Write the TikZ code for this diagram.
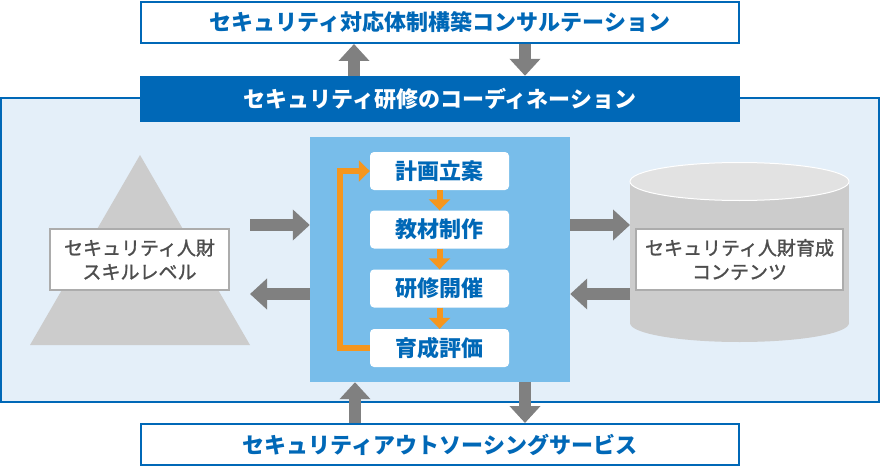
\documentclass[tikz,border=0pt]{standalone}
\usepackage{fontspec}
\setmainfont{Noto Sans CJK JP}
\newfontfamily\jpmedium{Noto Sans CJK JP}[FakeBold=1.4]
\usepackage{xcolor}
\definecolor{corpblue}{HTML}{0068B7}
\definecolor{paleblue}{HTML}{E4EFF9}
\definecolor{skyblue}{HTML}{78BDEA}
\definecolor{floworange}{HTML}{F5961E}
\definecolor{arrgray}{HTML}{808080}
\definecolor{shapegray}{HTML}{CCCCCC}
\definecolor{topgray}{HTML}{E2E2E2}
\definecolor{textgray}{HTML}{4D4D4D}
\usepackage{tikz}
\usetikzlibrary{
  arrows.meta,
  positioning
}

\begin{document}
\begin{tikzpicture}[x=1pt, y=-1pt,
  outer/.style={rectangle, draw=corpblue, line width=2pt, fill=white, minimum width=598pt, minimum height=41pt, font=\fontsize{22}{25}\selectfont\bfseries, text=corpblue},
  bar/.style={rectangle, fill=corpblue, minimum width=600pt, minimum height=46pt, font=\fontsize{22}{25}\selectfont\bfseries, text=white},
  panel/.style={rectangle, draw=corpblue, line width=1.5pt, fill=paleblue, minimum width=878pt, minimum height=304pt},
  proc/.style={rectangle, fill=skyblue, minimum width=260pt, minimum height=245pt},
  stepbox/.style={rectangle, fill=white, rounded corners=4pt, minimum width=139pt, minimum height=38pt, font=\fontsize{22}{25}\selectfont\bfseries, text=corpblue},
  infobox/.style={rectangle, draw=gray!65, line width=1.5pt, fill=white, minimum height=61pt, align=center, font=\fontsize{19}{24}\selectfont\jpmedium, text=textgray},
  garr/.style={-{Triangle[length=17pt, width=30pt]}, line width=12pt, arrgray},
  oarr/.style={-{Triangle[length=11pt, width=21pt]}, line width=6pt, floworange}
]
  \useasboundingbox (0,0) rectangle (880,468);

  \node[panel] (panel) at (440,250) {};

  \node[outer] (consult) at (440,22.5) {セキュリティ対応体制構築コンサルテーション};
  \node[bar] (coord) at (440,99) {セキュリティ研修のコーディネーション};
  \node[outer] (outsource) at (440,444.5) {セキュリティアウトソーシングサービス};

  % pyramid
  \fill[shapegray] (140,155) -- (250,345) -- (30,345) -- cycle;
  \node[infobox, minimum width=179pt] (skill) at (139.5,259.5) {セキュリティ人財\\スキルレベル};

  % cylinder
  \fill[shapegray] (630,181.5) rectangle (849,323);
  \fill[shapegray] (739.5,323) ellipse [x radius=109.5, y radius=19];
  \filldraw[fill=topgray, draw=white, line width=1pt] (739.5,181.5) ellipse [x radius=109.5, y radius=19];
  \node[infobox, minimum width=207pt] (contents) at (739.5,259.5) {セキュリティ人財育成\\コンテンツ};

  \node[proc] (process) at (440,259.5) {};
  \node[stepbox] (plan) at (439.5,171) {計画立案};
  \node[stepbox] (material) at (439.5,229.5) {教材制作};
  \node[stepbox] (training) at (439.5,288.5) {研修開催};
  \node[stepbox] (evaluate) at (439.5,348) {育成評価};

  \draw[oarr] (plan) -- (material);
  \draw[oarr] (material) -- (training);
  \draw[oarr] (training) -- (evaluate);
  \draw[oarr] (evaluate.west) -- ++(-30,0) |- (plan.west);

  \coordinate (lvlin) at (250,225);
  \coordinate (lvlout) at (250,294);
  \coordinate (cntin) at (630,225);
  \coordinate (cntout) at (630,294);

  \draw[garr] (lvlin) -- (lvlin -| process.west);
  \draw[garr] (lvlout -| process.west) -- (lvlout);
  \draw[garr] (cntin -| process.east) -- (cntin);
  \draw[garr] (cntout) -- (cntout -| process.east);

  \draw[garr] ([xshift=-86pt]coord.north) -- ([xshift=-86pt]consult.south);
  \draw[garr] ([xshift=85pt]consult.south) -- ([xshift=85pt]coord.north);
  \draw[garr] ([xshift=-85pt]outsource.north) -- ([xshift=-85pt]process.south);
  \draw[garr] ([xshift=85pt]process.south) -- ([xshift=85pt]outsource.north);
\end{tikzpicture}
\end{document}
